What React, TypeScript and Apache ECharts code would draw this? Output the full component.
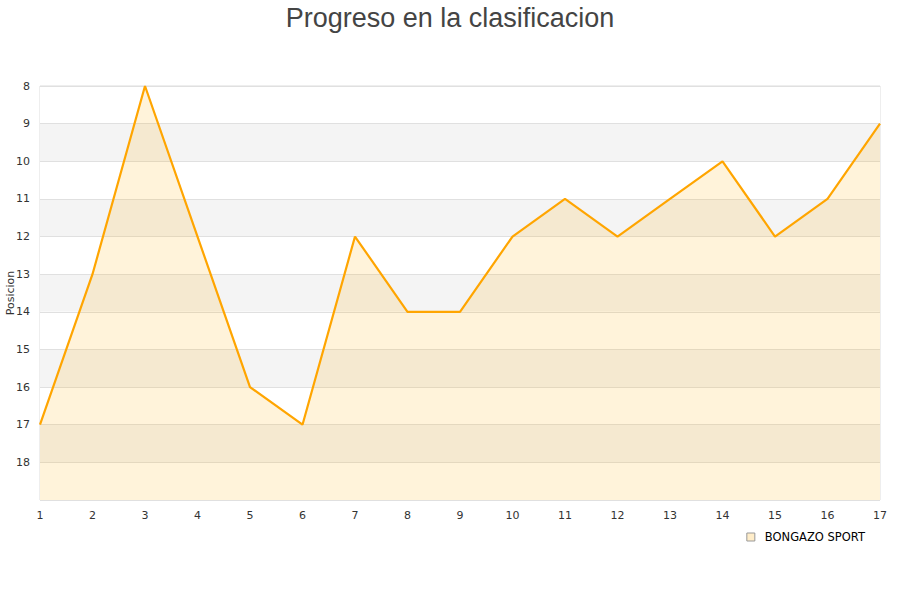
import React, { useEffect, useRef } from "react";
import * as echarts from "echarts";

const jornadas = ["1","2","3","4","5","6","7","8","9","10","11","12","13","14","15","16","17"];
const posiciones = [17, 13, 8, 12, 16, 17, 12, 14, 14, 12, 11, 12, 11, 10, 12, 11, 9];
const teamName = "BONGAZO SPORT";
const chartTitle = "Progreso en la clasificacion";

export default function App() {
  const ref = useRef<HTMLDivElement>(null);
  useEffect(() => {
    if (!ref.current) return;
    const chart = echarts.init(ref.current, null, { renderer: "svg" });
    chart.setOption({
      animation: false,
      title: {
        text: chartTitle,
        left: "center",
        top: -1,
        textStyle: { fontFamily: "Liberation Sans", fontSize: 27, fontWeight: "normal", color: "#444" },
      },
      grid: {
        left: 40, right: 20, top: 86, bottom: 100,
        containLabel: false, outerBoundsMode: "none",
        show: true, borderColor: "#ddd", borderWidth: 1,
      },
      legend: {
        data: [{ name: teamName, icon: "rect", itemStyle: { color: "#ffedc9", borderColor: "#999", borderWidth: 1 } }],
        right: 30,
        top: 526,
        itemWidth: 8,
        itemHeight: 8,
        itemGap: 10,
        textStyle: { fontFamily: "DejaVu Sans", fontSize: 11.5, color: "#000", padding: [0, 0, 0, 5] },
      },
      xAxis: {
        type: "category",
        data: jornadas,
        boundaryGap: false,
        axisLine: { show: false },
        axisTick: { show: false },
        axisLabel: { fontFamily: "DejaVu Sans", fontSize: 11, color: "#333", margin: 10 },
        splitLine: { show: false },
      },
      yAxis: {
        type: "value",
        inverse: true,
        min: 8,
        max: 19,
        interval: 1,
        name: "Posicion",
        nameLocation: "middle",
        nameGap: 24,
        nameMoveOverlap: false,
        nameTextStyle: { fontFamily: "DejaVu Sans", fontSize: 11, color: "#333" },
        axisLine: { show: false },
        axisTick: { show: false },
        axisLabel: {
          fontFamily: "DejaVu Sans",
          fontSize: 11,
          color: "#333",
          margin: 10,
          formatter: (v: number) => (v === 19 ? "" : String(v)),
        },
        splitLine: { show: true, lineStyle: { color: "#e0e0e0" } },
        splitArea: { show: true, areaStyle: { color: ["#ffffff", "#f4f4f4"] } },
      },
      series: [
        {
          name: teamName,
          type: "line",
          data: posiciones,
          showSymbol: false,
          symbol: "none",
          lineStyle: { color: "#ffa500", width: 2.2 },
          itemStyle: { color: "#ffa500" },
          areaStyle: { color: "rgba(255,170,0,0.21)", origin: "end" },
        },
      ],
    });
    return () => chart.dispose();
  }, []);
  return <div ref={ref} style={{ width: 900, height: 600, position: "absolute", left: 0, top: 0 }} />;
}
